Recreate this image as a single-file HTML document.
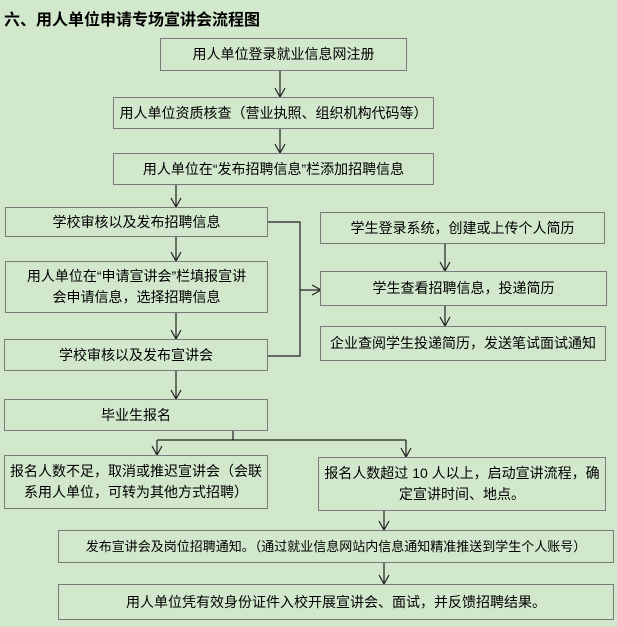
<!DOCTYPE html>
<html><head><meta charset="utf-8"><style>
body{margin:0;width:617px;height:627px;background:#d2e8cc;overflow:hidden;font-family:"Liberation Sans","Noto Sans CJK SC",sans-serif;position:relative}
.t{position:absolute;left:4px;top:6px;font-size:16px;font-weight:bold;color:#000}
.b{position:absolute;box-sizing:border-box;border:1px solid #7a7a7a;background:#d2e8cc;font-size:14px;color:#000;display:flex;align-items:center;justify-content:center;text-align:center;line-height:21px;white-space:nowrap}
svg{position:absolute;left:0;top:0}
</style></head><body>
<div class="t">六、用人单位申请专场宣讲会流程图</div>
<svg width="617" height="627" fill="none" stroke="#222" stroke-width="1.2">
<defs><marker id="a" markerWidth="12" markerHeight="12" refX="10" refY="6" orient="auto" markerUnits="userSpaceOnUse"><path d="M1,1 L10,6 L1,11" fill="none" stroke="#222" stroke-width="1.2"/></marker></defs>
<line x1="280" y1="71" x2="280" y2="97" marker-end="url(#a)"/>
<line x1="280" y1="129" x2="280" y2="153" marker-end="url(#a)"/>
<line x1="176" y1="185" x2="176" y2="207" marker-end="url(#a)"/>
<line x1="176" y1="237" x2="176" y2="261" marker-end="url(#a)"/>
<line x1="176" y1="313" x2="176" y2="339" marker-end="url(#a)"/>
<line x1="176" y1="371" x2="176" y2="399" marker-end="url(#a)"/>
<polyline points="268,222 300,222 300,356 268,356"/>
<line x1="300" y1="290" x2="321" y2="290" marker-end="url(#a)"/>
<line x1="445" y1="244" x2="445" y2="271" marker-end="url(#a)"/>
<line x1="445" y1="306" x2="445" y2="326" marker-end="url(#a)"/>
<polyline points="233,431 233,440"/>
<line x1="157" y1="440" x2="406" y2="440"/>
<line x1="157" y1="440" x2="157" y2="455" marker-end="url(#a)"/>
<line x1="406" y1="440" x2="406" y2="457" marker-end="url(#a)"/>
<line x1="384" y1="511" x2="384" y2="530" marker-end="url(#a)"/>
<line x1="384" y1="563" x2="384" y2="584" marker-end="url(#a)"/>
</svg>
<div class="b" style="left:160px;top:38px;width:247px;height:33px">用人单位登录就业信息网注册</div>
<div class="b" style="left:113px;top:97px;width:321px;height:32px">用人单位资质核查（营业执照、组织机构代码等）</div>
<div class="b" style="left:113px;top:153px;width:321px;height:32px">用人单位在“发布招聘信息”栏添加招聘信息</div>
<div class="b" style="left:5px;top:207px;width:263px;height:30px">学校审核以及发布招聘信息</div>
<div class="b" style="left:5px;top:261px;width:263px;height:52px">用人单位在“申请宣讲会”栏填报宣讲<br>会申请信息，选择招聘信息</div>
<div class="b" style="left:4px;top:339px;width:264px;height:32px">学校审核以及发布宣讲会</div>
<div class="b" style="left:320px;top:212px;width:285px;height:32px">学生登录系统，创建或上传个人简历</div>
<div class="b" style="left:320px;top:271px;width:287px;height:35px">学生查看招聘信息，投递简历</div>
<div class="b" style="left:320px;top:326px;width:286px;height:35px">企业查阅学生投递简历，发送笔试面试通知</div>
<div class="b" style="left:4px;top:399px;width:264px;height:32px">毕业生报名</div>
<div class="b" style="left:4px;top:455px;width:264px;height:54px">报名人数不足，取消或推迟宣讲会（会联<br>系用人单位，可转为其他方式招聘）</div>
<div class="b" style="left:318px;top:457px;width:288px;height:54px">报名人数超过 10 人以上，启动宣讲流程，确<br>定宣讲时间、地点。</div>
<div class="b" style="left:58px;top:530px;width:556px;height:33px;font-size:13px">发布宣讲会及岗位招聘通知。（通过就业信息网站内信息通知精准推送到学生个人账号）</div>
<div class="b" style="left:58px;top:584px;width:556px;height:36px">用人单位凭有效身份证件入校开展宣讲会、面试，并反馈招聘结果。</div>
</body></html>
